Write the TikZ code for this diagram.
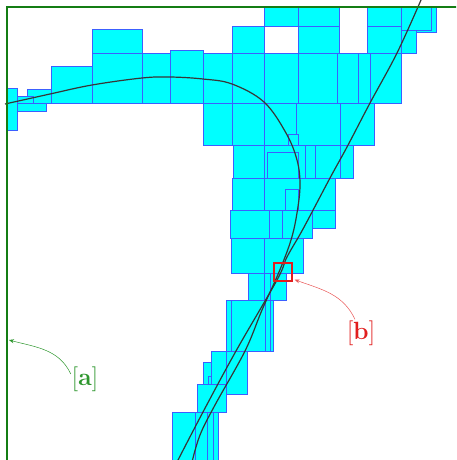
\documentclass[tikz,border=0pt]{standalone}
\usepackage{amsmath, amssymb}
\usepackage{xcolor}
\usepackage{tikz}
\usetikzlibrary{arrows.meta, positioning}
\definecolor{cellcyan}{RGB}{0, 255, 255}
\definecolor{cellblue}{RGB}{60, 95, 255}
\definecolor{framegreen}{RGB}{20, 125, 20}
\definecolor{taggreen}{RGB}{45, 150, 45}
\definecolor{tagred}{RGB}{225, 30, 30}
\definecolor{tracegray}{RGB}{55, 55, 55}

\begin{document}
\begin{tikzpicture}[
  x=1pt, y=-1pt,
  cell/.style={fill=cellcyan, draw=cellblue, line width=0.6pt},
  trace/.style={tracegray, line width=1.2pt},
  tag/.style={font=\fontsize{23}{27}\selectfont, inner sep=1pt},
  tagarr/.style={-{Stealth[length=5pt, width=4pt]}, line width=0.5pt}]
  \clip (0,0) rectangle (456,460);
  % cover of the curves
  \foreach \xa/\ya/\xb/\yb in {
    7/88/17/130, 17/97/46/111, 27/89/51/103, 17/96/33/103,
    51/66/92/103, 92/29/142/53, 92/53/142/103, 142/53/203/103,
    170/50/203/103, 203/53/232/103, 203/103/232/145, 232/26/264/53,
    264/7/298/26, 298/7/339/26, 298/26/339/53, 367/7/401/26,
    367/26/401/53, 405/7/436/32, 401/7/431/30, 401/30/416/53,
    232/53/264/103, 264/53/298/103, 298/53/337/103, 337/53/358/103,
    358/53/398/103, 370/53/401/103, 232/103/264/145, 264/103/296/145,
    296/103/340/145, 340/103/374/145, 288/134/298/145,
    233/145/264/178, 264/145/305/178, 267/152/298/178, 305/145/315/178,
    315/145/340/178, 340/145/353/178, 232/178/264/212, 264/178/335/212,
    285/189/298/212, 230/210/335/228, 230/210/269/238, 269/210/282/238,
    282/210/312/238, 231/238/264/273, 264/238/303/273,
    248/273/264/300, 264/273/270/300, 270/273/286/300,
    226/300/231/351, 231/300/265/351, 265/300/270/351, 270/300/273/351,
    203/362/211/384, 208/376/211/384, 211/351/226/394, 226/351/247/394,
    197/384/226/412, 172/412/195/470, 195/412/207/470, 207/412/213/470,
    213/412/218/470}
    \draw[cell] (\xa,\ya) rectangle (\xb,\yb);
  % the two curves
  \draw[trace] plot[smooth, tension=0.6] coordinates {
    (5,104) (50,94) (92,85) (142,78) (170,77) (203,79) (232,84)
    (264,102) (286,133) (297,160) (300,185) (297,213) (291,240)
    (279,272) (262,310) (245,351) (215,405) (200,435) (192,462)};
  \draw[trace] plot[smooth, tension=0.6] coordinates {
    (421,0) (397,53) (370,103) (347,147) (330,178) (303,229)
    (287,257) (277,280) (236,351) (203,412) (177,462)};
  % frame
  \draw[framegreen, line width=1.5pt] (7,470) |- (470,7);
  % marked spot
  \node[draw=tagred, line width=1.4pt, minimum size=18pt, inner sep=0pt] (spot) at (283,272) {};
  \node[tag, text=tagred] (btag) at (361,333) {$[\mathbf{b}]$};
  \node[tag, text=taggreen] (atag) at (85,379) {$[\mathbf{a}]$};
  \coordinate (edge) at (9,340);
  \draw[tagarr, tagred!75] ([xshift=-6pt]btag.north) to[out=115, in=-20] ([shift={(2pt,2pt)}]spot.south east);
  \draw[tagarr, taggreen] ([yshift=5pt]atag.west) to[out=115, in=-15] (edge);
\end{tikzpicture}
\end{document}
